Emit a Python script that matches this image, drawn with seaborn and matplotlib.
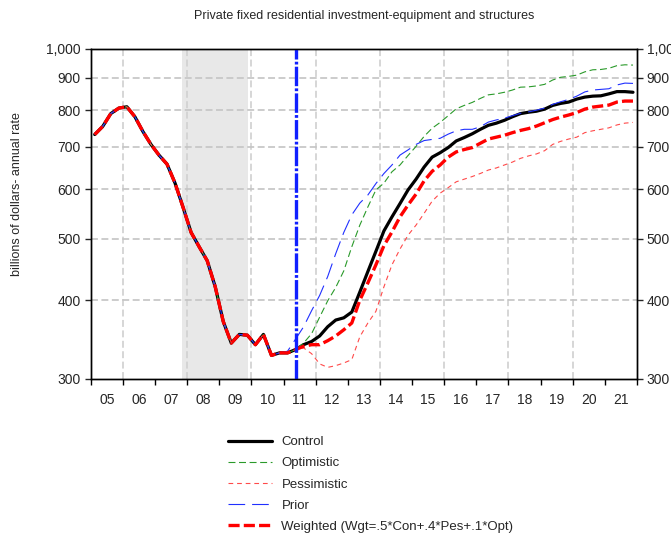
import matplotlib
matplotlib.use('Agg')
import matplotlib.pyplot as plt
import pandas as pd
import seaborn as sns


# quarterly periods covered by the chart
QUARTERS = pd.period_range('2005Q1', '2021Q4', freq='Q')

# actual data, 2005Q1 - 2011Q2 (billions of dollars, annual rate)
HISTORY = [732, 754, 790, 806, 810, 781, 740, 706, 679, 657, 613, 561, 512,
           486, 462, 420, 370, 342, 353, 352, 340, 353, 327, 330, 330, 334]

# forecasts, 2011Q3 - 2021Q4
CONTROL = [340, 344, 351, 363, 372, 375, 383, 412, 444, 478,
           515, 542, 569, 598, 622, 650, 674, 685, 698, 715,
           724, 734, 746, 757, 763, 771, 781, 790, 794, 797,
           803, 814, 820, 824, 833, 839, 842, 843, 849, 856,
           856, 854]
OPTIMISTIC = [342, 354, 376, 399, 419, 445, 486, 526, 562, 598,
              613, 639, 655, 678, 701, 727, 749, 765, 784, 804,
              814, 823, 835, 846, 849, 854, 861, 870, 871, 874,
              879, 893, 902, 905, 909, 920, 927, 928, 932, 941,
              944, 943]
PESSIMISTIC = [336, 329, 317, 313, 315, 318, 322, 350, 368, 384,
               420, 455, 482, 507, 526, 549, 574, 591, 603, 616,
               622, 628, 635, 643, 648, 655, 662, 671, 677, 682,
               690, 706, 714, 720, 725, 737, 742, 746, 750, 758,
               763, 765]
WEIGHTED = [338, 340, 340, 345, 351, 359, 368, 400, 426, 455,
            488, 513, 542, 566, 589, 618, 640, 655, 674, 687,
            693, 698, 709, 720, 725, 730, 737, 743, 748, 755,
            764, 773, 780, 786, 793, 803, 809, 812, 815, 824,
            827, 827]
# prior forecast, 2011Q1 - 2021Q4
PRIOR = [332, 347, 363, 385, 407, 436, 474, 512, 546, 570, 587, 612,
         635, 655, 679, 692, 706, 716, 719, 722, 733, 742, 746, 746,
         753, 766, 772, 777, 784, 791, 795, 800, 806, 817, 825, 832,
         842, 855, 861, 863, 865, 877, 883, 882]

FORECAST_START = 2011.375
RECESSION = (2007.85, 2009.9)
GRID_YEARS = [2006, 2008, 2010, 2012, 2014, 2016, 2018, 2020]
Y_TICKS = [300, 400, 500, 600, 700, 800, 900, 1000]
Y_LABELS = ['300', '400', '500', '600', '700', '800', '900', '1,000']

STYLES = [
    ('Control', HISTORY + CONTROL, 'black', 2.3, '-'),
    ('Optimistic', HISTORY + OPTIMISTIC, '#2a9a2a', 0.8, (0, (5, 2.6))),
    ('Pessimistic', HISTORY + PESSIMISTIC, '#ff4a4a', 0.8, (0, (3.4, 2.8))),
    ('Prior', HISTORY[:24] + PRIOR, '#2030ff', 0.8, (0, (12, 5))),
    ('Weighted (Wgt=.5*Con+.4*Pes+.1*Opt)', HISTORY + WEIGHTED, 'red', 2.4, (0, (8, 3))),
]


def main():
    sns.set_style('ticks')
    plt.rcParams['font.family'] = ['Liberation Sans', 'DejaVu Sans']
    plt.rcParams['lines.scale_dashes'] = False

    xs = [q.year + (q.quarter - 0.5) / 4 for q in QUARTERS]

    fig = plt.figure(figsize=(6.71, 5.35), dpi=100)
    ax = fig.add_axes([90.7 / 671, 1 - 379 / 535, 546.3 / 671, 330 / 535])

    ax.axvspan(*RECESSION, color='#e8e8e8', lw=0, zorder=0)
    for yr in GRID_YEARS:
        ax.axvline(yr, color='#d0d0d0', lw=1.2, ls=(0, (5, 2.5)), zorder=0.5)
    for v in Y_TICKS[1:-1]:
        ax.axhline(v, color='#c4c4c4', lw=1.2, ls=(0, (5, 2.5)), zorder=0.5)

    for name, vals, color, lw, ls in STYLES:
        sns.lineplot(x=xs[len(xs) - len(vals):], y=vals, ax=ax, color=color,
                     lw=lw, ls=ls, label=name)
    ax.axvline(FORECAST_START, color='#1020ff', lw=2.4, ls=(0, (14, 1.6, 2, 1.6)), zorder=5)

    handles, labels = ax.get_legend_handles_labels()
    ax.legend_.remove()

    ax.set_yscale('log')
    ax.set_ylim(300, 1000)
    ax.set_xlim(2005, 2022)
    ax.set_yticks(Y_TICKS)
    ax.set_yticklabels(Y_LABELS)
    ax.yaxis.set_minor_locator(matplotlib.ticker.NullLocator())
    ax.set_xticks(range(2005, 2023))
    ax.set_xticklabels([])
    ax.set_xticks([y + 0.5 for y in range(2005, 2022)], minor=True)
    ax.set_xticklabels([f'{y % 100:02d}' for y in range(2005, 2022)], minor=True)
    ax.tick_params(axis='x', which='major', length=4, width=1, color='black')
    ax.tick_params(axis='x', which='minor', length=0, pad=10, labelsize=10)
    ax.tick_params(axis='y', length=4, width=1, pad=3, labelsize=10)
    ax.set_xlabel('')
    ax.set_ylabel('')

    ax2 = ax.twinx()
    ax2.set_yscale('log')
    ax2.set_ylim(300, 1000)
    ax2.set_yticks(Y_TICKS)
    ax2.set_yticklabels(Y_LABELS)
    ax2.yaxis.set_minor_locator(matplotlib.ticker.NullLocator())
    ax2.tick_params(axis='y', length=4, width=1, pad=3, labelsize=10)

    for a in (ax, ax2):
        for sp in a.spines.values():
            sp.set_visible(True)
            sp.set_color('black')
            sp.set_linewidth(1)

    fig.text(364 / 671, 1 - 16 / 535,
             'Private fixed residential investment-equipment and structures',
             ha='center', va='center', fontsize=9)
    fig.text(17 / 671, 1 - 194 / 535, 'billions of dollars- annual rate',
             rotation=90, ha='center', va='center', fontsize=9)

    fig.legend(handles, labels, loc='upper left',
               bbox_to_anchor=(228 / 671, 1 - 436 / 535), frameon=False,
               fontsize=9.5, handlelength=3.35, handletextpad=0.7,
               labelspacing=0.68, borderpad=0, borderaxespad=0)

    fig.savefig('out.png', dpi=100)


if __name__ == '__main__':
    main()
